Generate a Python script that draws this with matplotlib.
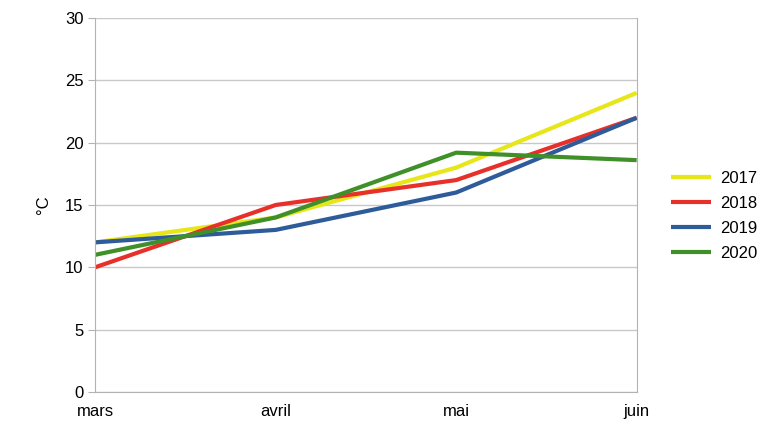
import matplotlib.pyplot as plt

months = ['mars', 'avril', 'mai', 'juin']
t2017 = [12, 14, 18, 24]
t2018 = [10, 15, 17, 22]
t2019 = [12, 13, 16, 22]
t2020 = [11, 14, 19.2, 18.6]

series = [
    ('2017', t2017, '#e6e619'),
    ('2018', t2018, '#e8302a'),
    ('2019', t2019, '#2e5b9a'),
    ('2020', t2020, '#3f9028'),
]

plt.rcParams['font.family'] = ['Liberation Sans', 'DejaVu Sans']

fig = plt.figure(figsize=(7.68, 4.32), dpi=100)
ax = fig.add_axes([0.124, 0.093, 0.705, 0.865])

x = range(len(months))
for name, vals, col in series:
    ax.plot(x, vals, color=col, linewidth=3, label=name, solid_capstyle='butt')

ax.set_xlim(0, len(months) - 1)
ax.set_ylim(0, 30)
ax.set_yticks(range(0, 31, 5))
ax.set_xticks(list(x))
ax.set_xticklabels(months)
ax.grid(axis='y', color='#c8c8c8', linewidth=1)
ax.set_axisbelow(True)
for s in ax.spines.values():
    s.set_color('#b3b3b3')
ax.spines['top'].set_visible(False)
ax.tick_params(axis='y', colors='#b3b3b3', labelcolor='black', labelsize=12, length=5)
ax.tick_params(axis='x', length=0, labelsize=12, pad=9)
ax.set_ylabel('°C', fontsize=12, labelpad=10)

ax.legend(loc='center left', bbox_to_anchor=(1.035, 0.47), frameon=False,
          fontsize=12, handlelength=2.4, handletextpad=0.6, labelspacing=0.6)

fig.savefig('out.png', dpi=100)
